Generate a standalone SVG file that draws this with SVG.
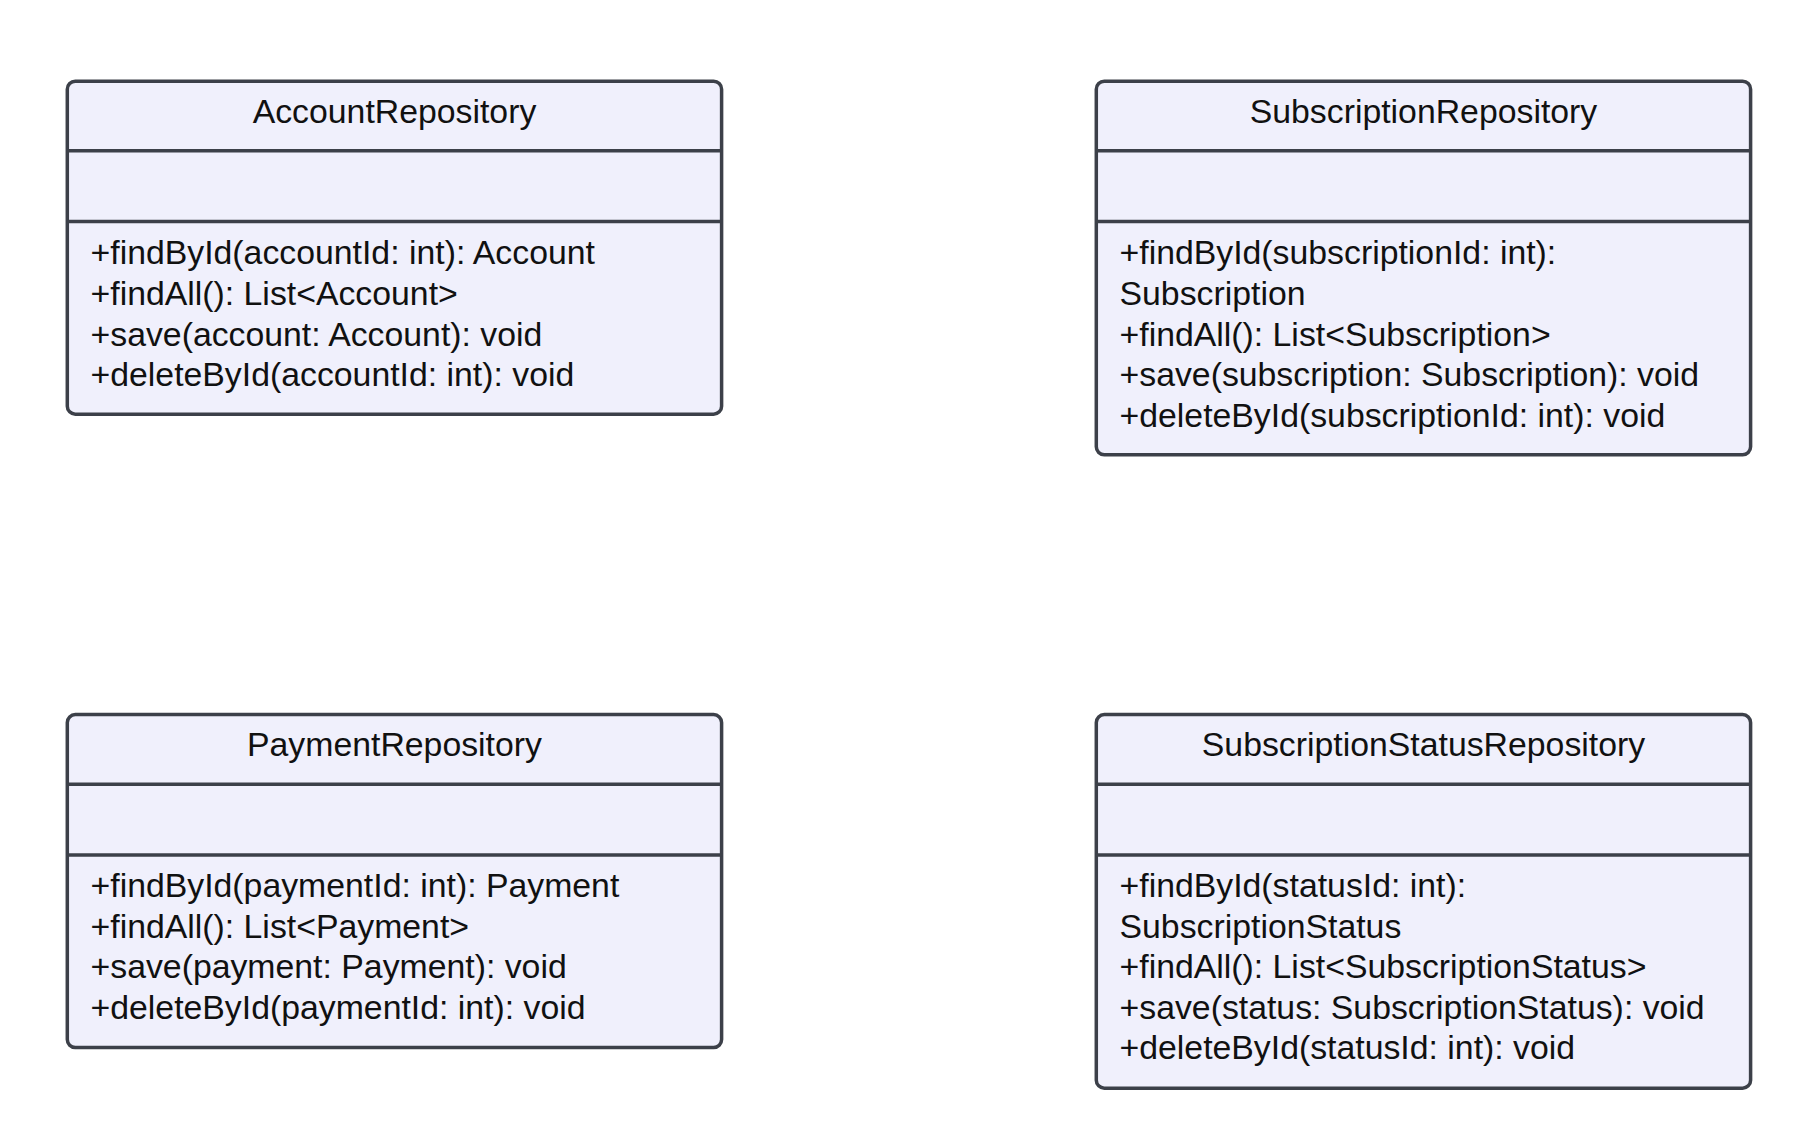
<svg xmlns="http://www.w3.org/2000/svg" width="1819" height="1133" viewBox="0 0 1819 1133">
<style>
.box{fill:#f0f0fc;stroke:#3c4049;stroke-width:3.5}
.div{stroke:#3c4049;stroke-width:3.5}
text{font-family:"Liberation Sans",Arial,sans-serif;font-size:33.8px;fill:#111}
.title{text-anchor:middle}
</style>
<rect width="1819" height="1133" fill="#ffffff"/>
<g id="connectors"/>
<g id="AccountRepository">
<rect class="box" x="67.3" y="81.2" width="654.3" height="333" rx="8"/>
<line class="div" x1="67.3" y1="150.8" x2="721.6" y2="150.8"/>
<line class="div" x1="67.3" y1="221.6" x2="721.6" y2="221.6"/>
<text class="title" x="394.5" y="123.2">AccountRepository</text>
<text x="90.5" y="264.3">+findById(accountId: int): Account</text>
<text x="90.5" y="304.9">+findAll(): List&lt;Account&gt;</text>
<text x="90.5" y="345.5">+save(account: Account): void</text>
<text x="90.5" y="386.1">+deleteById(accountId: int): void</text>
</g>
<g id="SubscriptionRepository">
<rect class="box" x="1096.3" y="81.2" width="654.3" height="373.6" rx="8"/>
<line class="div" x1="1096.3" y1="150.8" x2="1750.6" y2="150.8"/>
<line class="div" x1="1096.3" y1="221.6" x2="1750.6" y2="221.6"/>
<text class="title" x="1423.5" y="123.2">SubscriptionRepository</text>
<text x="1119.5" y="264.3">+findById(subscriptionId: int):</text>
<text x="1119.5" y="304.9">Subscription</text>
<text x="1119.5" y="345.5">+findAll(): List&lt;Subscription&gt;</text>
<text x="1119.5" y="386.1">+save(subscription: Subscription): void</text>
<text x="1119.5" y="426.7">+deleteById(subscriptionId: int): void</text>
</g>
<g id="PaymentRepository">
<rect class="box" x="67.3" y="714.6" width="654.3" height="333" rx="8"/>
<line class="div" x1="67.3" y1="784.2" x2="721.6" y2="784.2"/>
<line class="div" x1="67.3" y1="855" x2="721.6" y2="855"/>
<text class="title" x="394.5" y="755.8">PaymentRepository</text>
<text x="90.5" y="897">+findById(paymentId: int): Payment</text>
<text x="90.5" y="937.6">+findAll(): List&lt;Payment&gt;</text>
<text x="90.5" y="978.2">+save(payment: Payment): void</text>
<text x="90.5" y="1018.8">+deleteById(paymentId: int): void</text>
</g>
<g id="SubscriptionStatusRepository">
<rect class="box" x="1096.3" y="714.6" width="654.3" height="373.6" rx="8"/>
<line class="div" x1="1096.3" y1="784.2" x2="1750.6" y2="784.2"/>
<line class="div" x1="1096.3" y1="855" x2="1750.6" y2="855"/>
<text class="title" x="1423.5" y="755.8">SubscriptionStatusRepository</text>
<text x="1119.5" y="897">+findById(statusId: int):</text>
<text x="1119.5" y="937.6">SubscriptionStatus</text>
<text x="1119.5" y="978.2">+findAll(): List&lt;SubscriptionStatus&gt;</text>
<text x="1119.5" y="1018.8">+save(status: SubscriptionStatus): void</text>
<text x="1119.5" y="1059.4">+deleteById(statusId: int): void</text>
</g>
</svg>
